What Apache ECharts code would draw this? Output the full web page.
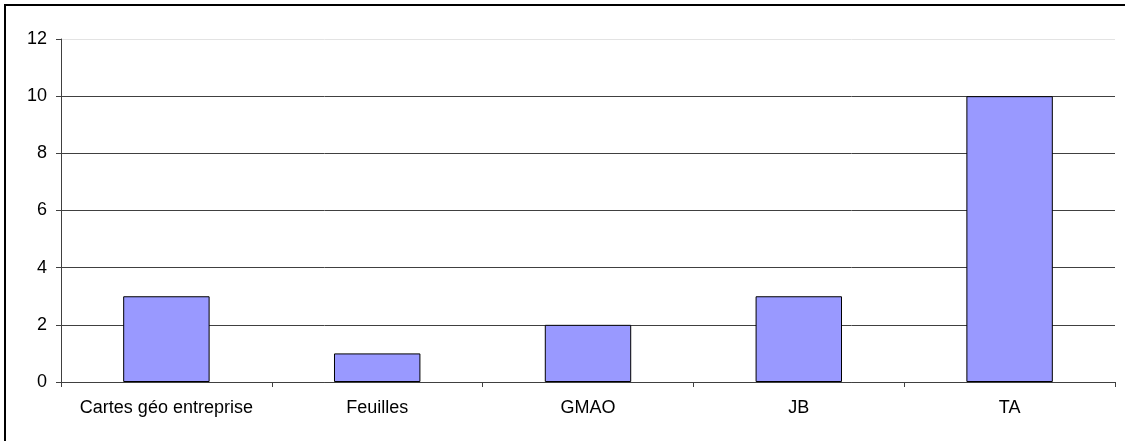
<!DOCTYPE html>
<html>
<head>
<meta charset="utf-8">
<script src="https://cdn.jsdelivr.net/npm/echarts@6/dist/echarts.min.js"></script>
<style>
  html, body { margin: 0; padding: 0; background: #fff; }
  #main { width: 1125px; height: 441px; }
</style>
</head>
<body>
<div id="main"></div>
<script>
// data
var categories = ['Cartes géo entreprise', 'Feuilles', 'GMAO', 'JB', 'TA'];
var values = [3, 1, 2, 3, 10];
var yTicks = [0, 2, 4, 6, 8, 10, 12];

var chart = echarts.init(document.getElementById('main'));

// split lines: dark ones, the top (12) line is light grey
var gridColors = yTicks.map(function (t) {
    return t === 12 ? '#e3e3e3' : '#404040';
});

var option = {
    animation: false,
    textStyle: { fontFamily: 'Liberation Sans, Arial, sans-serif' },
    graphic: [
        {
            type: 'rect',
            shape: { x: 5, y: 5, width: 1200, height: 600 },
            style: { fill: 'none', stroke: '#000', lineWidth: 2 },
            silent: true
        }
    ],
    grid: { left: 61, right: 10, top: 39, bottom: 59 },
    xAxis: {
        type: 'category',
        data: categories,
        axisLine: { lineStyle: { color: '#404040', width: 1 } },
        axisTick: { show: true, interval: 0, length: 5, lineStyle: { color: '#404040' } },
        axisLabel: { color: '#000', fontSize: 18, margin: 17, interval: 0 }
    },
    yAxis: {
        type: 'value',
        min: 0,
        max: 12,
        interval: 2,
        axisLine: { show: true, lineStyle: { color: '#404040', width: 1 } },
        axisTick: { show: true, length: 5, lineStyle: { color: '#404040' } },
        axisLabel: { color: '#000', fontSize: 18, margin: 14 },
        splitLine: { show: true, lineStyle: { color: gridColors, width: 1 } }
    },
    series: [
        {
            type: 'bar',
            data: values,
            barWidth: '41%',
            itemStyle: { color: '#9999FF', borderColor: '#000', borderWidth: 1 }
        }
    ]
};

chart.setOption(option);
</script>
</body>
</html>
